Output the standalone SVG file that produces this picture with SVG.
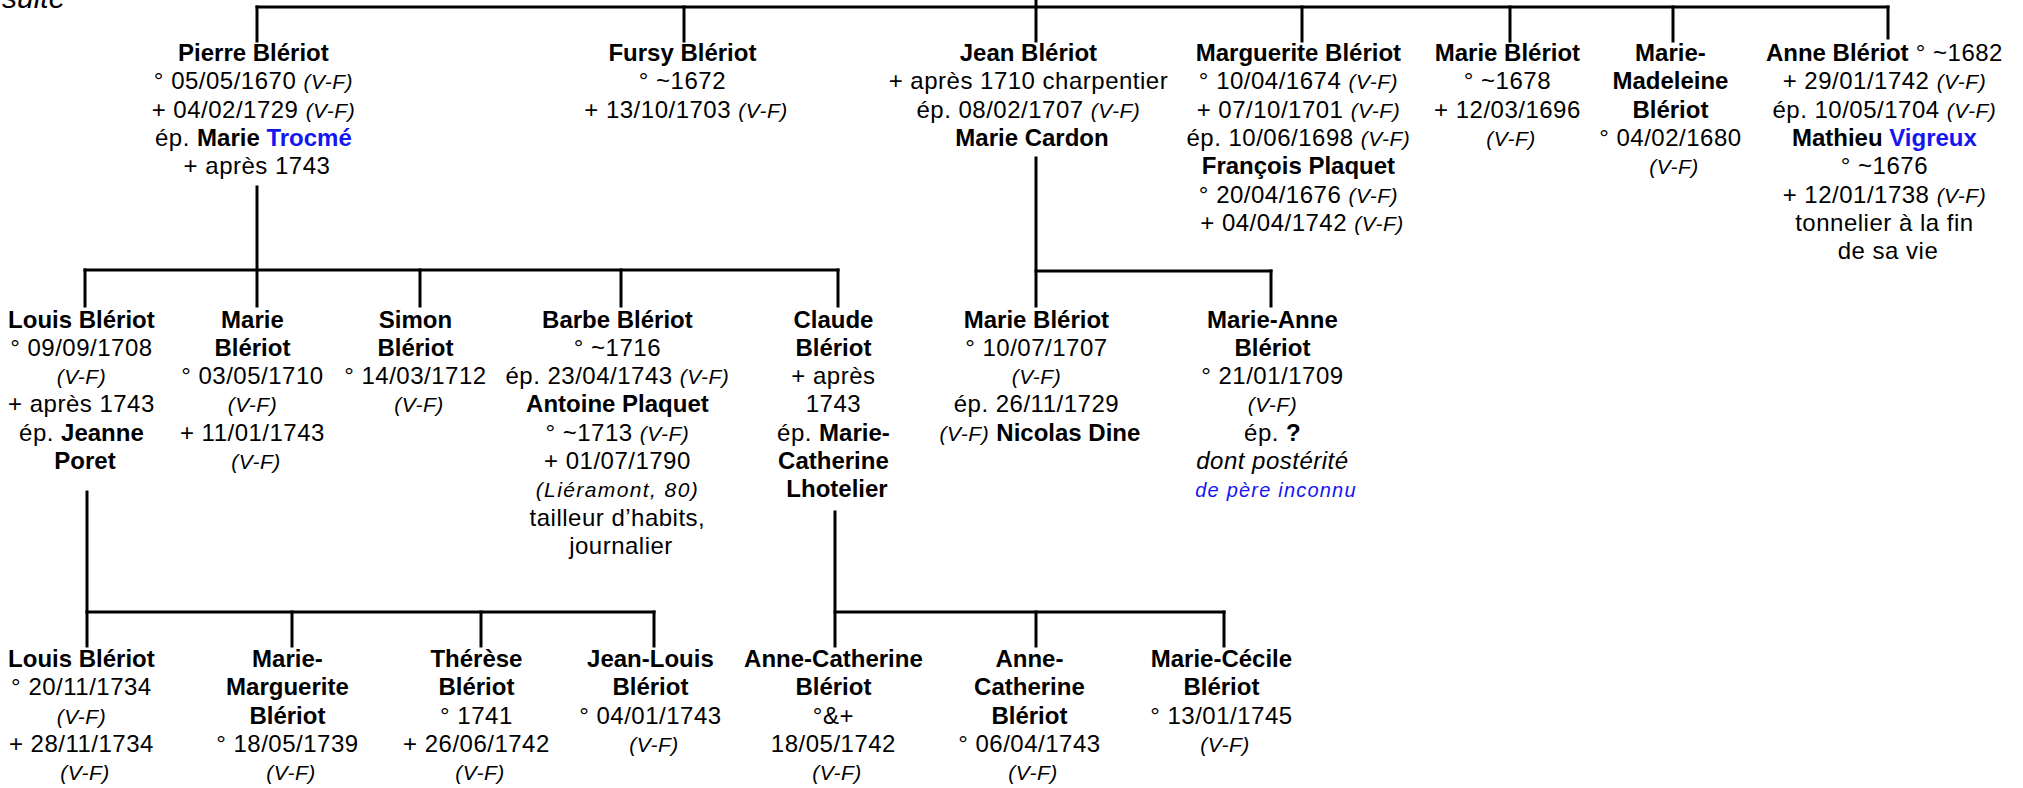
<svg xmlns="http://www.w3.org/2000/svg" width="2023" height="788" viewBox="0 0 2023 788">
<style>
text{font-family:"Liberation Sans",Arial,Helvetica,sans-serif;font-size:24px;fill:#000;text-anchor:middle;letter-spacing:0.5px}
.b{font-weight:bold;letter-spacing:0}
.i{font-style:italic;font-size:21px}
.it{font-style:italic}
.bl{fill:#1515f0}
.sm{font-size:20px;letter-spacing:1.2px}
.wide{letter-spacing:1.4px}
.conn line{stroke:#000;stroke-width:3;stroke-linecap:square}
</style>
<rect width="2023" height="788" fill="#fff"/>
<text x="2" y="8" style="font-style:italic;font-size:30px;text-anchor:start;letter-spacing:0">suite</text>
<g class="conn" id="connectors">
<line x1="257" y1="7" x2="1888" y2="7"/>
<line x1="257" y1="7" x2="257" y2="41"/>
<line x1="684" y1="7" x2="684" y2="41"/>
<line x1="1036" y1="0" x2="1036" y2="41"/>
<line x1="1302" y1="7" x2="1302" y2="41"/>
<line x1="1510" y1="7" x2="1510" y2="41"/>
<line x1="1673" y1="7" x2="1673" y2="41"/>
<line x1="1888" y1="7" x2="1888" y2="38"/>
<line x1="257" y1="187" x2="257" y2="306"/>
<line x1="85" y1="270" x2="838" y2="270"/>
<line x1="85" y1="270" x2="85" y2="306"/>
<line x1="420" y1="270" x2="420" y2="306"/>
<line x1="621" y1="270" x2="621" y2="306"/>
<line x1="838" y1="270" x2="838" y2="306"/>
<line x1="1036" y1="158" x2="1036" y2="306"/>
<line x1="1036" y1="271" x2="1271" y2="271"/>
<line x1="1271" y1="271" x2="1271" y2="306"/>
<line x1="87" y1="492" x2="87" y2="646"/>
<line x1="87" y1="612" x2="654" y2="612"/>
<line x1="292" y1="612" x2="292" y2="646"/>
<line x1="481" y1="612" x2="481" y2="646"/>
<line x1="654" y1="612" x2="654" y2="646"/>
<line x1="835" y1="512" x2="835" y2="646"/>
<line x1="835" y1="612" x2="1224" y2="612"/>
<line x1="1036" y1="612" x2="1036" y2="646"/>
<line x1="1224" y1="612" x2="1224" y2="646"/>
</g>
<g id="pierre"><text y="61">
<tspan x="257" class="b">Pierre Blériot</tspan>
<tspan x="257" dy="28.3">° 05/05/1670 <tspan class="i">(V-F)</tspan></tspan>
<tspan x="257" dy="28.3">+ 04/02/1729 <tspan class="i">(V-F)</tspan></tspan>
<tspan x="257" dy="28.3">ép. <tspan class="b">Marie </tspan><tspan class="b bl">Trocmé</tspan></tspan>
<tspan x="257" dy="28.3">+ après 1743</tspan>
</text></g>
<g id="fursy"><text y="61">
<tspan x="686" class="b">Fursy Blériot</tspan>
<tspan x="686" dy="28.3">° ~1672</tspan>
<tspan x="686" dy="28.3">+ 13/10/1703 <tspan class="i">(V-F)</tspan></tspan>
</text></g>
<g id="jean"><text y="61">
<tspan x="1032" class="b">Jean Blériot</tspan>
<tspan x="1032" dy="28.3">+ après 1710 charpentier</tspan>
<tspan x="1032" dy="28.3">ép. 08/02/1707 <tspan class="i">(V-F)</tspan></tspan>
<tspan x="1032" dy="28.3" class="b">Marie Cardon</tspan>
</text></g>
<g id="marguerite"><text y="61">
<tspan x="1302" class="b">Marguerite Blériot</tspan>
<tspan x="1302" dy="28.3">° 10/04/1674 <tspan class="i">(V-F)</tspan></tspan>
<tspan x="1302" dy="28.3">+ 07/10/1701 <tspan class="i">(V-F)</tspan></tspan>
<tspan x="1302" dy="28.3">ép. 10/06/1698 <tspan class="i">(V-F)</tspan></tspan>
<tspan x="1302" dy="28.3" class="b">François Plaquet</tspan>
<tspan x="1302" dy="28.3">° 20/04/1676 <tspan class="i">(V-F)</tspan></tspan>
<tspan x="1302" dy="28.3">+ 04/04/1742 <tspan class="i">(V-F)</tspan></tspan>
</text></g>
<g id="marie1678"><text y="61">
<tspan x="1511" class="b">Marie Blériot</tspan>
<tspan x="1511" dy="28.3">° ~1678</tspan>
<tspan x="1511" dy="28.3">+ 12/03/1696</tspan>
<tspan x="1511" dy="28.3" class="i">(V-F)</tspan>
</text></g>
<g id="mariemadeleine"><text y="61">
<tspan x="1674" class="b">Marie-</tspan>
<tspan x="1674" dy="28.3" class="b">Madeleine</tspan>
<tspan x="1674" dy="28.3" class="b">Blériot</tspan>
<tspan x="1674" dy="28.3">° 04/02/1680</tspan>
<tspan x="1674" dy="28.3" class="i">(V-F)</tspan>
</text></g>
<g id="anne"><text y="61">
<tspan x="1888"><tspan class="b">Anne Blériot</tspan> ° ~1682</tspan>
<tspan x="1888" dy="28.3">+ 29/01/1742 <tspan class="i">(V-F)</tspan></tspan>
<tspan x="1888" dy="28.3">ép. 10/05/1704 <tspan class="i">(V-F)</tspan></tspan>
<tspan x="1888" dy="28.3"><tspan class="b">Mathieu </tspan><tspan class="b bl">Vigreux</tspan></tspan>
<tspan x="1888" dy="28.3">° ~1676</tspan>
<tspan x="1888" dy="28.3">+ 12/01/1738 <tspan class="i">(V-F)</tspan></tspan>
<tspan x="1888" dy="28.3">tonnelier à la fin</tspan>
<tspan x="1888" dy="28.3">de sa vie</tspan>
</text></g>
<g id="louis1708"><text y="327.5">
<tspan x="85" class="b">Louis Blériot</tspan>
<tspan x="85" dy="28.3">° 09/09/1708</tspan>
<tspan x="85" dy="28.3" class="i">(V-F)</tspan>
<tspan x="85" dy="28.3">+ après 1743</tspan>
<tspan x="85" dy="28.3">ép. <tspan class="b">Jeanne</tspan></tspan>
<tspan x="85" dy="28.3" class="b">Poret</tspan>
</text></g>
<g id="marie1710"><text y="327.5">
<tspan x="256" class="b">Marie</tspan>
<tspan x="256" dy="28.3" class="b">Blériot</tspan>
<tspan x="256" dy="28.3">° 03/05/1710</tspan>
<tspan x="256" dy="28.3" class="i">(V-F)</tspan>
<tspan x="256" dy="28.3">+ 11/01/1743</tspan>
<tspan x="256" dy="28.3" class="i">(V-F)</tspan>
</text></g>
<g id="simon"><text y="327.5">
<tspan x="419" class="b">Simon</tspan>
<tspan x="419" dy="28.3" class="b">Blériot</tspan>
<tspan x="419" dy="28.3">° 14/03/1712</tspan>
<tspan x="419" dy="28.3" class="i">(V-F)</tspan>
</text></g>
<g id="barbe"><text y="327.5">
<tspan x="621" class="b">Barbe Blériot</tspan>
<tspan x="621" dy="28.3">° ~1716</tspan>
<tspan x="621" dy="28.3">ép. 23/04/1743 <tspan class="i">(V-F)</tspan></tspan>
<tspan x="621" dy="28.3" class="b">Antoine Plaquet</tspan>
<tspan x="621" dy="28.3">° ~1713 <tspan class="i">(V-F)</tspan></tspan>
<tspan x="621" dy="28.3">+ 01/07/1790</tspan>
<tspan x="621" dy="28.3" class="i wide">(Liéramont, 80)</tspan>
<tspan x="621" dy="28.3">tailleur d’habits,</tspan>
<tspan x="621" dy="28.3">journalier</tspan>
</text></g>
<g id="claude"><text y="327.5">
<tspan x="837" class="b">Claude</tspan>
<tspan x="837" dy="28.3" class="b">Blériot</tspan>
<tspan x="837" dy="28.3">+ après</tspan>
<tspan x="837" dy="28.3">1743</tspan>
<tspan x="837" dy="28.3">ép. <tspan class="b">Marie-</tspan></tspan>
<tspan x="837" dy="28.3" class="b">Catherine</tspan>
<tspan x="837" dy="28.3" class="b">Lhotelier</tspan>
</text></g>
<g id="marie1707"><text y="327.5">
<tspan x="1040" class="b">Marie Blériot</tspan>
<tspan x="1040" dy="28.3">° 10/07/1707</tspan>
<tspan x="1040" dy="28.3" class="i">(V-F)</tspan>
<tspan x="1040" dy="28.3">ép. 26/11/1729</tspan>
<tspan x="1040" dy="28.3"><tspan class="i">(V-F)</tspan> <tspan class="b">Nicolas Dine</tspan></tspan>
</text></g>
<g id="marieanne"><text y="327.5">
<tspan x="1276" class="b">Marie-Anne</tspan>
<tspan x="1276" dy="28.3" class="b">Blériot</tspan>
<tspan x="1276" dy="28.3">° 21/01/1709</tspan>
<tspan x="1276" dy="28.3" class="i">(V-F)</tspan>
<tspan x="1276" dy="28.3">ép. <tspan class="b">?</tspan></tspan>
<tspan x="1276" dy="28.3" class="it">dont postérité</tspan>
<tspan x="1276" dy="28.3" class="it bl sm">de père inconnu</tspan>
</text></g>
<g id="louis1734"><text y="667">
<tspan x="85" class="b">Louis Blériot</tspan>
<tspan x="85" dy="28.3">° 20/11/1734</tspan>
<tspan x="85" dy="28.3" class="i">(V-F)</tspan>
<tspan x="85" dy="28.3">+ 28/11/1734</tspan>
<tspan x="85" dy="28.3" class="i">(V-F)</tspan>
</text></g>
<g id="mariemarguerite"><text y="667">
<tspan x="291" class="b">Marie-</tspan>
<tspan x="291" dy="28.3" class="b">Marguerite</tspan>
<tspan x="291" dy="28.3" class="b">Blériot</tspan>
<tspan x="291" dy="28.3">° 18/05/1739</tspan>
<tspan x="291" dy="28.3" class="i">(V-F)</tspan>
</text></g>
<g id="therese"><text y="667">
<tspan x="480" class="b">Thérèse</tspan>
<tspan x="480" dy="28.3" class="b">Blériot</tspan>
<tspan x="480" dy="28.3">° 1741</tspan>
<tspan x="480" dy="28.3">+ 26/06/1742</tspan>
<tspan x="480" dy="28.3" class="i">(V-F)</tspan>
</text></g>
<g id="jeanlouis"><text y="667">
<tspan x="654" class="b">Jean-Louis</tspan>
<tspan x="654" dy="28.3" class="b">Blériot</tspan>
<tspan x="654" dy="28.3">° 04/01/1743</tspan>
<tspan x="654" dy="28.3" class="i">(V-F)</tspan>
</text></g>
<g id="annecatherine1"><text y="667">
<tspan x="837" class="b">Anne-Catherine</tspan>
<tspan x="837" dy="28.3" class="b">Blériot</tspan>
<tspan x="837" dy="28.3">°&amp;+</tspan>
<tspan x="837" dy="28.3">18/05/1742</tspan>
<tspan x="837" dy="28.3" class="i">(V-F)</tspan>
</text></g>
<g id="annecatherine2"><text y="667">
<tspan x="1033" class="b">Anne-</tspan>
<tspan x="1033" dy="28.3" class="b">Catherine</tspan>
<tspan x="1033" dy="28.3" class="b">Blériot</tspan>
<tspan x="1033" dy="28.3">° 06/04/1743</tspan>
<tspan x="1033" dy="28.3" class="i">(V-F)</tspan>
</text></g>
<g id="mariececile"><text y="667">
<tspan x="1225" class="b">Marie-Cécile</tspan>
<tspan x="1225" dy="28.3" class="b">Blériot</tspan>
<tspan x="1225" dy="28.3">° 13/01/1745</tspan>
<tspan x="1225" dy="28.3" class="i">(V-F)</tspan>
</text></g>
</svg>
